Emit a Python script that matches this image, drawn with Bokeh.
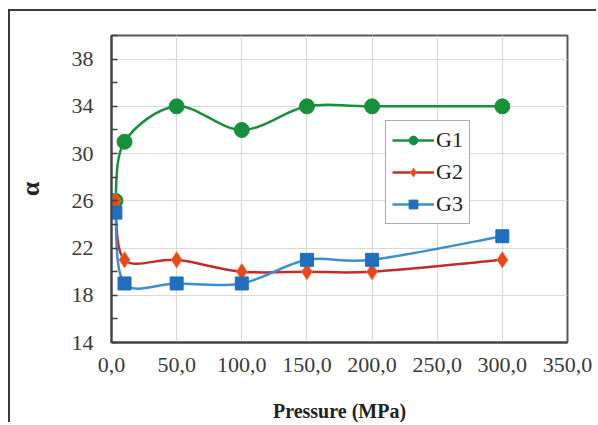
import numpy as np
from bokeh.plotting import figure
from bokeh.models import Range1d, FixedTicker, Legend, LegendItem, CustomJSTickFormatter
from bokeh.embed import file_html
from bokeh.resources import INLINE

# ---- data ----
pressure = [3, 10, 50, 100, 150, 200, 300]
g1 = [26, 31, 34, 32, 34, 34, 34]
g2 = [26, 21, 21, 20, 20, 20, 21]
g3 = [25, 19, 19, 19, 21, 21, 23]
series_names = ["G1", "G2", "G3"]
x_ticks = [0, 50, 100, 150, 200, 250, 300, 350]
y_ticks = [14, 18, 22, 26, 30, 34, 38]

FONT = "Liberation Serif"


def smooth_segments(xs, ys):
    """Excel-like smoothed line: cubic Bezier segments (Catmull-Rom control points)."""
    P = np.column_stack([xs, ys]).astype(float)
    n = len(P)
    segs = {k: [] for k in ["x0", "y0", "x1", "y1", "cx0", "cy0", "cx1", "cy1"]}
    for i in range(n - 1):
        p0 = P[i - 1] if i > 0 else P[i]
        p1 = P[i]
        p2 = P[i + 1]
        p3 = P[i + 2] if i + 2 < n else P[i + 1]
        c1 = p1 + (p2 - p0) / 6.0
        c2 = p2 - (p3 - p1) / 6.0
        segs["x0"].append(p1[0]); segs["y0"].append(p1[1])
        segs["x1"].append(p2[0]); segs["y1"].append(p2[1])
        segs["cx0"].append(c1[0]); segs["cy0"].append(c1[1])
        segs["cx1"].append(c2[0]); segs["cy1"].append(c2[1])
    return segs


p = figure(width=588, height=413, output_backend="svg", toolbar_location=None,
           x_range=Range1d(0, 350), y_range=Range1d(14, 40),
           min_border_left=101, min_border_right=31, min_border_top=24, min_border_bottom=80)
p.styles = {"margin-top": "9px", "margin-left": "8px",
            "border-top": "2px solid #3a3a3a", "border-left": "2px solid #3a3a3a"}
# off-screen range used only so the legend can show a line sample
p.extra_y_ranges = {"legend_only": Range1d(1000, 1001)}

p.background_fill_color = "white"
p.border_fill_color = "white"
p.outline_line_color = "#595959"
p.outline_line_width = 2

p.xgrid.grid_line_color = "#d9d9d9"
p.ygrid.grid_line_color = "#d9d9d9"
p.xgrid.grid_line_width = 1.2
p.ygrid.grid_line_width = 1.2

p.xaxis.ticker = FixedTicker(ticks=x_ticks)
p.yaxis.ticker = FixedTicker(ticks=y_ticks, minor_ticks=[t + 2 for t in y_ticks])
p.xaxis.formatter = CustomJSTickFormatter(code="return tick.toFixed(1).replace('.', ',');")

for ax in (p.xaxis[0], p.yaxis[0]):
    ax.axis_line_color = "#404040"
    ax.axis_line_width = 2
    ax.major_label_text_font = FONT
    ax.major_label_text_font_size = "22px"
    ax.major_label_text_color = "#3a3a3a"
    ax.axis_label_text_font = FONT
    ax.axis_label_text_font_style = "bold"
    ax.axis_label_text_color = "#222222"

p.xaxis.major_tick_line_color = None
p.xaxis.minor_tick_line_color = None
p.xaxis.major_label_standoff = 9
p.xaxis.axis_label = "Pressure (MPa)"
p.xaxis.axis_label_text_font_size = "20px"
p.xaxis.axis_label_standoff = 25

p.yaxis.major_tick_in = 6
p.yaxis.major_tick_out = 0
p.yaxis.minor_tick_in = 6
p.yaxis.minor_tick_out = 0
p.yaxis.major_tick_line_color = "#404040"
p.yaxis.minor_tick_line_color = "#404040"
p.yaxis.major_tick_line_width = 1.5
p.yaxis.minor_tick_line_width = 1.5
p.yaxis.major_label_standoff = 18
p.yaxis.axis_label = "α"
p.yaxis.axis_label_text_font_size = "26px"
p.yaxis.axis_label_standoff = 24

styles = [
    dict(line="#17903c", marker="circle", fill="#17903c", mline="#17903c", size=15),
    dict(line="#c42b2b", marker="diamond", fill="#e8451c", mline="#f2702e", size=16),
    dict(line="#3b8fd1", marker="square", fill="#1f6fbe", mline="#1f6fbe", size=13),
]

items = []
for name, ys, st in zip(series_names, [g1, g2, g3], styles):
    segs = smooth_segments(pressure, ys)
    p.bezier(line_color=st["line"], line_width=2.5, **segs)
    # legend-only line sample, placed on an off-screen range (clipped away in the plot)
    proxy = p.line(pressure, ys, y_range_name="legend_only",
                   line_color=st["line"], line_width=2.5)
    sc = p.scatter(pressure, ys, marker=st["marker"], size=st["size"],
                   fill_color=st["fill"], line_color=st["mline"], line_width=1)
    items.append(LegendItem(label=name, renderers=[proxy, sc]))

legend = Legend(items=items, location=(274, 118))
legend.label_text_font = FONT
legend.label_text_font_size = "22px"
legend.label_text_color = "#222222"
legend.border_line_color = "#595959"
legend.border_line_width = 1
legend.background_fill_color = "white"
legend.background_fill_alpha = 1
legend.glyph_width = 42
legend.glyph_height = 22
legend.label_height = 22
legend.label_standoff = 2
legend.spacing = 6
legend.padding = 6
legend.margin = 0
p.add_layout(legend, "center")

open("out.html", "w").write(file_html(p, INLINE))
